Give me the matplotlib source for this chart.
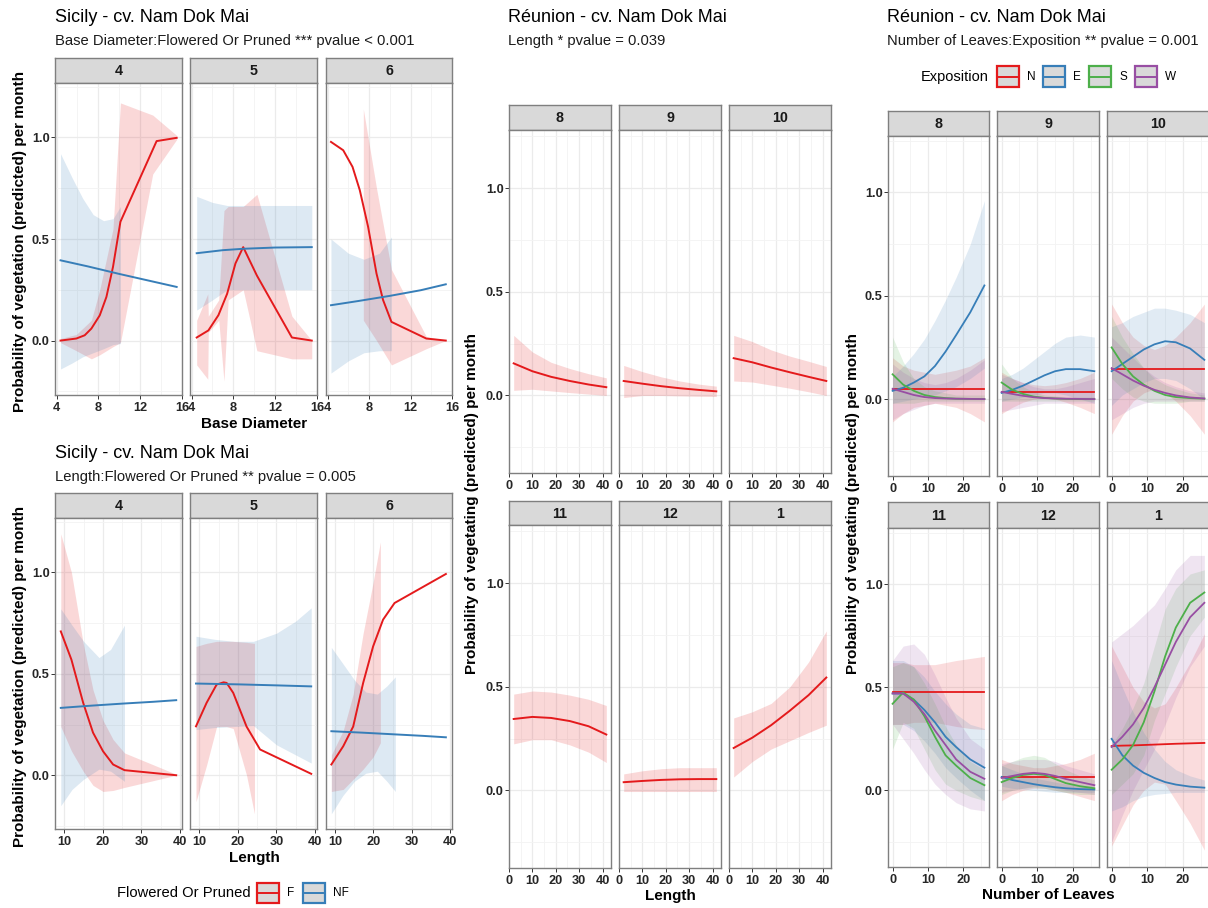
import matplotlib.pyplot as plt
from matplotlib.patches import Rectangle
from matplotlib.lines import Line2D

plt.rcParams['font.family'] = ['Liberation Sans', 'DejaVu Sans']

RED, BLUE, GREEN, PURPLE = '#E41A1C', '#377EB8', '#4DAF4A', '#984EA3'

# ---------------- Sicily, Base Diameter x Flowered Or Pruned ----------------
bd_months = ['4', '5', '6']
bd_4 = {
    'F': {'x': [4.38, 5.89, 6.69, 7.33, 8.13, 8.77, 9.4, 10.11, 13.57, 15.49],
          'y': [0.0, 0.01, 0.026, 0.059, 0.124, 0.215, 0.363, 0.585, 0.982, 0.998],
          'bx': [4.38, 5.89, 7.33, 8.13, 9.4, 10.11, 13.2, 15.49],
          'lo': [-0.01, -0.05, -0.09, -0.07, -0.03, -0.01, 0.82, 0.99],
          'hi': [0.01, 0.03, 0.1, 0.25, 0.55, 1.17, 1.11, 1.01]},
    'NF': {'x': [4.38, 7.0, 10.0, 13.0, 15.49],
           'y': [0.395, 0.365, 0.328, 0.293, 0.264],
           'bx': [4.38, 5.5, 6.5, 7.5, 8.5, 9.4, 10.11],
           'lo': [-0.14, -0.11, -0.08, -0.06, -0.04, -0.02, -0.015],
           'hi': [0.92, 0.8, 0.7, 0.62, 0.59, 0.6, 0.66]},
}
bd_5 = {
    'F': {'x': [4.49, 5.61, 6.57, 7.4, 8.2, 8.94, 10.25, 13.6, 15.5],
          'y': [0.015, 0.05, 0.125, 0.23, 0.38, 0.46, 0.32, 0.015, 0.0],
          'bx': [4.49, 5.55, 5.6, 6.6, 7.1, 7.5, 8.94, 10.25, 13.6, 15.5],
          'lo': [-0.12, -0.19, 0.04, 0.1, -0.2, 0.2, 0.25, -0.05, -0.09, -0.09],
          'hi': [0.1, 0.23, 0.12, 0.2, 0.64, 0.66, 0.66, 0.72, 0.12, 0.0]},
    'NF': {'x': [4.49, 7.0, 9.0, 12.0, 15.5],
           'y': [0.43, 0.445, 0.452, 0.458, 0.46],
           'bx': [4.49, 6.0, 7.4, 15.5],
           'lo': [0.15, 0.2, 0.25, 0.25],
           'hi': [0.71, 0.68, 0.665, 0.665]},
}
bd_6 = {
    'F': {'x': [4.33, 5.51, 6.41, 7.11, 7.91, 8.72, 9.35, 10.16, 13.52, 15.4],
          'y': [0.978, 0.937, 0.855, 0.74, 0.56, 0.33, 0.2, 0.092, 0.01, 0.0],
          'bx': [7.45, 8.72, 10.16, 13.52, 15.4],
          'lo': [0.1, 0.0, -0.12, -0.04, 0.0],
          'hi': [1.14, 0.75, 0.35, 0.02, 0.0]},
    'NF': {'x': [4.33, 7.0, 10.0, 13.0, 15.4],
           'y': [0.174, 0.195, 0.22, 0.248, 0.277],
           'bx': [4.33, 6.0, 7.5, 9.0, 10.16],
           'lo': [-0.16, -0.1, -0.06, -0.05, -0.05],
           'hi': [0.5, 0.43, 0.4, 0.43, 0.51]},
}

# ---------------- Sicily, Length x Flowered Or Pruned ----------------
len_4 = {
    'F': {'x': [9.1, 11.85, 14.9, 17.45, 20.05, 22.65, 25.6, 39.0],
          'y': [0.709, 0.57, 0.357, 0.21, 0.118, 0.053, 0.025, 0.0],
          'bx': [9.1, 11.85, 14.9, 17.45, 20.05, 22.65, 25.6, 39.0],
          'lo': [0.24, 0.12, 0.02, -0.05, -0.08, -0.075, -0.06, 0.0],
          'hi': [1.19, 1.0, 0.65, 0.42, 0.27, 0.176, 0.11, 0.005]},
    'NF': {'x': [9.1, 17.0, 25.0, 33.0, 39.0],
           'y': [0.332, 0.343, 0.353, 0.362, 0.37],
           'bx': [9.1, 12.0, 15.0, 19.0, 22.0, 25.6],
           'lo': [-0.15, -0.07, -0.02, 0.03, 0.02, -0.03],
           'hi': [0.82, 0.74, 0.66, 0.58, 0.62, 0.74]},
}
len_5 = {
    'F': {'x': [9.15, 11.9, 14.5, 16.3, 17.1, 18.8, 22.25, 25.75, 39.0],
          'y': [0.241, 0.357, 0.447, 0.458, 0.455, 0.406, 0.24, 0.127, 0.007],
          'bx': [9.15, 11.9, 14.5, 17.1, 18.8, 22.25, 24.3],
          'lo': [-0.13, 0.05, 0.24, 0.24, 0.23, 0.0, -0.19],
          'hi': [0.635, 0.65, 0.66, 0.66, 0.66, 0.655, 0.65]},
    'NF': {'x': [9.15, 20.0, 30.0, 39.0],
           'y': [0.452, 0.448, 0.443, 0.438],
           'bx': [9.15, 14.0, 19.0, 24.0, 30.0, 35.0, 39.0],
           'lo': [0.225, 0.235, 0.24, 0.245, 0.15, 0.1, 0.06],
           'hi': [0.685, 0.67, 0.66, 0.66, 0.7, 0.76, 0.825]},
}
len_6 = {
    'F': {'x': [9.0, 12.1, 14.7, 17.3, 19.9, 22.5, 25.5, 38.9],
          'y': [0.053, 0.143, 0.24, 0.455, 0.635, 0.767, 0.849, 0.992],
          'bx': [9.0, 12.1, 14.7, 17.3, 19.9, 21.8],
          'lo': [-0.08, -0.07, -0.02, 0.03, 0.09, 0.16],
          'hi': [0.1, 0.22, 0.4, 0.7, 0.95, 1.15]},
    'NF': {'x': [9.0, 17.0, 25.0, 33.0, 38.9],
           'y': [0.217, 0.21, 0.202, 0.194, 0.187],
           'bx': [9.0, 12.0, 15.0, 18.0, 21.0, 23.5, 25.7],
           'lo': [-0.19, -0.1, -0.03, 0.01, 0.02, -0.03, -0.08],
           'hi': [0.63, 0.55, 0.47, 0.41, 0.4, 0.44, 0.485]},
}

# ---------------- Réunion, Length (single series) ----------------
reu_months = ['8', '9', '10', '11', '12', '1']
mid_x = [2, 10, 18, 26, 34, 41.6]
# (fit, lower, upper)
mid_8 = ([0.155, 0.117, 0.09, 0.07, 0.053, 0.04],
         [0.025, 0.03, 0.022, 0.014, 0.007, 0.0],
         [0.29, 0.21, 0.16, 0.13, 0.105, 0.085])
mid_9 = ([0.07, 0.057, 0.045, 0.035, 0.027, 0.02],
         [-0.01, 0.0, 0.0, -0.002, -0.004, -0.005],
         [0.145, 0.115, 0.09, 0.07, 0.055, 0.045])
mid_10 = ([0.18, 0.16, 0.135, 0.112, 0.09, 0.07],
          [0.07, 0.065, 0.05, 0.035, 0.018, 0.0],
          [0.29, 0.26, 0.22, 0.19, 0.165, 0.14])
mid_11 = ([0.345, 0.355, 0.35, 0.335, 0.31, 0.27],
          [0.225, 0.245, 0.245, 0.22, 0.185, 0.135],
          [0.465, 0.48, 0.475, 0.46, 0.44, 0.41])
mid_12 = ([0.04, 0.046, 0.051, 0.054, 0.055, 0.055],
          [-0.005, -0.005, -0.005, -0.005, -0.005, -0.005],
          [0.08, 0.095, 0.105, 0.11, 0.11, 0.11])
mid_1 = ([0.205, 0.255, 0.315, 0.385, 0.46, 0.545],
         [0.065, 0.14, 0.2, 0.24, 0.28, 0.315],
         [0.35, 0.38, 0.42, 0.5, 0.62, 0.77])

# ---------------- Réunion, Number of Leaves x Exposition ----------------
expo = ['N', 'E', 'S', 'W']
leaves_x = [0, 3, 6, 9, 12, 15, 18, 22, 26]
leaf_8 = {
    'N': ([0.05] * 9,
          [-0.11, -0.07, -0.04, -0.03, -0.02, -0.03, -0.04, -0.07, -0.11],
          [0.2, 0.16, 0.14, 0.13, 0.12, 0.13, 0.14, 0.16, 0.2]),
    'E': ([0.04, 0.055, 0.08, 0.11, 0.16, 0.23, 0.31, 0.42, 0.55],
          [-0.02, -0.01, 0.0, 0.01, 0.02, 0.04, 0.06, 0.1, 0.15],
          [0.11, 0.16, 0.22, 0.29, 0.38, 0.48, 0.59, 0.75, 0.96]),
    'S': ([0.12, 0.07, 0.04, 0.02, 0.01, 0.005, 0.002, 0.001, 0.0],
          [-0.02, -0.02, -0.02, -0.01, -0.01, -0.01, -0.01, -0.01, -0.01],
          [0.3, 0.18, 0.1, 0.06, 0.04, 0.03, 0.02, 0.02, 0.02]),
    'W': ([0.05, 0.035, 0.02, 0.01, 0.005, 0.003, 0.002, 0.001, 0.0],
          [-0.1, -0.07, -0.05, -0.03, -0.02, -0.02, -0.02, -0.02, -0.02],
          [0.17, 0.13, 0.1, 0.08, 0.07, 0.08, 0.1, 0.14, 0.19]),
}
leaf_9 = {
    'N': ([0.035] * 9,
          [-0.07, -0.04, -0.015, 0.0, 0.005, 0.0, -0.015, -0.04, -0.07],
          [0.13, 0.1, 0.08, 0.07, 0.065, 0.07, 0.08, 0.1, 0.13]),
    'E': ([0.03, 0.045, 0.065, 0.09, 0.115, 0.135, 0.145, 0.145, 0.135],
          [-0.01, 0.0, 0.01, 0.02, 0.03, 0.03, 0.02, 0.0, -0.02],
          [0.1, 0.12, 0.15, 0.19, 0.23, 0.27, 0.3, 0.31, 0.3]),
    'S': ([0.08, 0.045, 0.025, 0.012, 0.006, 0.003, 0.001, 0.0, 0.0],
          [-0.01, -0.01, -0.01, -0.01, -0.01, -0.01, -0.01, -0.01, -0.01],
          [0.17, 0.1, 0.06, 0.035, 0.02, 0.015, 0.01, 0.01, 0.01]),
    'W': ([0.035, 0.025, 0.016, 0.009, 0.005, 0.003, 0.002, 0.001, 0.0],
          [-0.06, -0.05, -0.04, -0.03, -0.02, -0.02, -0.02, -0.02, -0.02],
          [0.12, 0.1, 0.08, 0.06, 0.05, 0.05, 0.06, 0.08, 0.1]),
}
leaf_10 = {
    'N': ([0.145] * 9,
          [-0.17, -0.08, -0.01, 0.03, 0.05, 0.03, -0.01, -0.08, -0.17],
          [0.46, 0.37, 0.3, 0.26, 0.24, 0.26, 0.3, 0.37, 0.46]),
    'E': ([0.135, 0.17, 0.205, 0.24, 0.265, 0.28, 0.275, 0.245, 0.19],
          [-0.03, 0.02, 0.05, 0.08, 0.1, 0.1, 0.09, 0.05, 0.0],
          [0.35, 0.37, 0.4, 0.42, 0.44, 0.44, 0.43, 0.41, 0.37]),
    'S': ([0.25, 0.17, 0.11, 0.07, 0.04, 0.02, 0.01, 0.005, 0.002],
          [0.1, 0.05, 0.01, -0.01, -0.02, -0.02, -0.02, -0.01, -0.01],
          [0.4, 0.3, 0.22, 0.15, 0.1, 0.07, 0.05, 0.03, 0.02]),
    'W': ([0.15, 0.12, 0.09, 0.065, 0.045, 0.03, 0.018, 0.008, 0.003],
          [-0.1, -0.07, -0.04, -0.02, -0.01, -0.01, -0.01, -0.01, -0.01],
          [0.3, 0.25, 0.2, 0.15, 0.11, 0.08, 0.06, 0.04, 0.03]),
}
leaf_11 = {
    'N': ([0.475] * 9,
          [0.32, 0.32, 0.33, 0.33, 0.33, 0.32, 0.31, 0.3, 0.295],
          [0.62, 0.62, 0.61, 0.61, 0.61, 0.62, 0.63, 0.64, 0.65]),
    'E': ([0.47, 0.47, 0.44, 0.39, 0.33, 0.26, 0.21, 0.15, 0.11],
          [0.32, 0.32, 0.29, 0.24, 0.18, 0.11, 0.06, 0.0, -0.05],
          [0.63, 0.63, 0.6, 0.55, 0.48, 0.42, 0.37, 0.32, 0.3]),
    'S': ([0.42, 0.475, 0.44, 0.36, 0.26, 0.17, 0.12, 0.06, 0.025],
          [0.2, 0.33, 0.3, 0.2, 0.1, 0.03, 0.0, -0.03, -0.05],
          [0.6, 0.62, 0.6, 0.52, 0.42, 0.31, 0.22, 0.14, 0.1]),
    'W': ([0.47, 0.47, 0.43, 0.37, 0.29, 0.22, 0.15, 0.09, 0.056],
          [0.32, 0.25, 0.18, 0.1, 0.03, -0.02, -0.06, -0.09, -0.1],
          [0.63, 0.7, 0.71, 0.66, 0.56, 0.45, 0.35, 0.25, 0.2]),
}
leaf_12 = {
    'N': ([0.065] * 9,
          [-0.05, -0.02, 0.0, 0.01, 0.01, 0.0, -0.01, -0.03, -0.05],
          [0.15, 0.13, 0.12, 0.11, 0.11, 0.12, 0.13, 0.15, 0.18]),
    'E': ([0.065, 0.05, 0.04, 0.03, 0.022, 0.015, 0.01, 0.006, 0.004],
          [0.02, 0.01, 0.005, 0.0, -0.005, -0.01, -0.01, -0.01, -0.01],
          [0.12, 0.1, 0.08, 0.06, 0.05, 0.04, 0.03, 0.025, 0.02]),
    'S': ([0.04, 0.06, 0.075, 0.08, 0.075, 0.055, 0.035, 0.02, 0.01],
          [-0.02, 0.0, 0.01, 0.015, 0.01, 0.0, -0.01, -0.02, -0.02],
          [0.12, 0.14, 0.16, 0.17, 0.16, 0.13, 0.1, 0.07, 0.05]),
    'W': ([0.06, 0.07, 0.08, 0.085, 0.08, 0.07, 0.055, 0.04, 0.025],
          [-0.01, 0.0, 0.01, 0.02, 0.02, 0.01, 0.0, -0.01, -0.02],
          [0.13, 0.14, 0.15, 0.15, 0.15, 0.14, 0.12, 0.1, 0.08]),
}
leaf_1 = {
    'N': ([0.215, 0.217, 0.218, 0.22, 0.222, 0.224, 0.226, 0.228, 0.23],
          [-0.27, -0.17, -0.07, 0.0, 0.04, 0.03, -0.05, -0.16, -0.29],
          [0.7, 0.6, 0.5, 0.43, 0.4, 0.42, 0.5, 0.62, 0.76]),
    'E': ([0.25, 0.17, 0.12, 0.085, 0.06, 0.04, 0.028, 0.018, 0.013],
          [-0.1, -0.08, -0.05, -0.03, -0.02, -0.015, -0.01, -0.01, -0.01],
          [0.63, 0.5, 0.38, 0.28, 0.2, 0.14, 0.1, 0.07, 0.05]),
    'S': ([0.1, 0.15, 0.22, 0.33, 0.48, 0.65, 0.79, 0.91, 0.96],
          [-0.02, 0.03, 0.08, 0.17, 0.34, 0.47, 0.6, 0.75, 0.84],
          [0.22, 0.3, 0.4, 0.52, 0.7, 0.88, 0.98, 1.05, 1.07]),
    'W': ([0.21, 0.26, 0.32, 0.4, 0.5, 0.61, 0.72, 0.84, 0.91],
          [-0.25, -0.12, 0.0, 0.1, 0.2, 0.32, 0.45, 0.6, 0.7],
          [0.72, 0.76, 0.8, 0.85, 0.9, 0.98, 1.07, 1.14, 1.14]),
}

# ---------------- figure ----------------
W, H = 1208, 908
fig = plt.figure(figsize=(W / 100, H / 100), dpi=100)
BORDER = '#7F7F7F'


def panel(x0, x1, s0, y0, y1, label, xlim, ylim, xmaj, xmin, ylab):
    st = fig.add_axes([x0 / W, 1 - y0 / H, (x1 - x0) / W, (y0 - s0) / H])
    st.set_facecolor('#D9D9D9')
    st.set_xticks([])
    st.set_yticks([])
    for sp in st.spines.values():
        sp.set_color(BORDER)
        sp.set_linewidth(1.0)
    st.text(0.5, 0.47, label, ha='center', va='center', fontsize=10.3,
            fontweight='bold', color='#1A1A1A', transform=st.transAxes)
    ax = fig.add_axes([x0 / W, 1 - y1 / H, (x1 - x0) / W, (y1 - y0) / H])
    ax.set_xlim(xlim)
    ax.set_ylim(ylim)
    ax.set_xticks(xmaj)
    ax.set_xticks(xmin, minor=True)
    ax.set_yticks([0, 0.5, 1.0])
    ax.set_yticks([-0.25, 0.25, 0.75, 1.25], minor=True)
    ax.grid(which='major', color='#EBEBEB', lw=0.9)
    ax.grid(which='minor', color='#F3F3F3', lw=0.6)
    ax.set_axisbelow(True)
    ax.tick_params(which='major', length=2.75, width=0.7, color='#333333',
                   pad=2.0, labelsize=9.2, labelcolor='#262626')
    ax.tick_params(which='minor', length=0)
    ax.set_xticklabels([str(v) for v in xmaj], fontweight='bold')
    if ylab:
        ax.set_yticklabels(['0.0', '0.5', '1.0'], fontweight='bold')
        ax.tick_params(axis='y', pad=1.2)
    else:
        ax.set_yticklabels([])
        ax.tick_params(axis='y', length=0)
    for sp in ax.spines.values():
        sp.set_color(BORDER)
        sp.set_linewidth(1.0)
    return ax


def draw_groups(ax, d, cols):
    for k, c in cols:
        ax.fill_between(d[k]['bx'], d[k]['lo'], d[k]['hi'], color=c, alpha=0.17, lw=0)
    for k, c in cols:
        ax.plot(d[k]['x'], d[k]['y'], color=c, lw=1.4)


fp_cols = [('F', RED), ('NF', BLUE)]
left_x = [(55, 182), (190, 317), (326, 452)]

# left top: base diameter
for (x0, x1), m, d in zip(left_x, bd_months, [bd_4, bd_5, bd_6]):
    ax = panel(x0, x1, 58, 83, 395, m, (3.85, 15.95), (-0.268, 1.268),
               [4, 8, 12, 16], [6, 10, 14], x0 == 55)
    draw_groups(ax, d, fp_cols)

# left bottom: length
for (x0, x1), m, d in zip(left_x, bd_months, [len_4, len_5, len_6]):
    ax = panel(x0, x1, 493, 518, 829, m, (7.6, 40.5), (-0.265, 1.268),
               [10, 20, 30, 40], [15, 25, 35], x0 == 55)
    draw_groups(ax, d, fp_cols)

# middle: Réunion length
mid_cols = [(509, 611), (619, 721), (729, 831)]
mid_rows = [(105, 130, 473), (501, 525, 868)]
mid_data = [mid_8, mid_9, mid_10, mid_11, mid_12, mid_1]
for i, (m, (yv, lo, hi)) in enumerate(zip(reu_months, mid_data)):
    x0, x1 = mid_cols[i % 3]
    s0, y0, y1 = mid_rows[i // 3]
    ax = panel(x0, x1, s0, y0, y1, m, (0, 43.6), (-0.374, 1.281),
               [0, 10, 20, 30, 40], [5, 15, 25, 35], i % 3 == 0)
    ax.fill_between(mid_x, lo, hi, color=RED, alpha=0.17, lw=0)
    ax.plot(mid_x, yv, color=RED, lw=1.4)

# right: Réunion number of leaves x exposition
right_cols = [(888, 989), (997, 1099), (1107, 1209)]
right_rows = [(111, 136, 476), (502, 528, 867)]
leaf_data = [leaf_8, leaf_9, leaf_10, leaf_11, leaf_12, leaf_1]
expo_cols = [RED, BLUE, GREEN, PURPLE]
for i, (m, d) in enumerate(zip(reu_months, leaf_data)):
    x0, x1 = right_cols[i % 3]
    s0, y0, y1 = right_rows[i // 3]
    ax = panel(x0, x1, s0, y0, y1, m, (-1.3, 27.3), (-0.372, 1.273),
               [0, 10, 20], [5, 15, 25], i % 3 == 0)
    for k, c in zip(expo, expo_cols):
        ax.fill_between(leaves_x, d[k][1], d[k][2], color=c, alpha=0.15, lw=0)
    for k, c in zip(expo, expo_cols):
        ax.plot(leaves_x, d[k][0], color=c, lw=1.3)


# ---------------- texts ----------------
def ftext(x, y, s, **kw):
    fig.text(x / W, 1 - y / H, s, **kw)


for x, t, sub, y in [(55, 'Sicily - cv. Nam Dok Mai',
                      'Base Diameter:Flowered Or Pruned *** pvalue < 0.001', 18),
                     (55, 'Sicily - cv. Nam Dok Mai',
                      'Length:Flowered Or Pruned ** pvalue = 0.005', 453),
                     (508, 'Réunion - cv. Nam Dok Mai', 'Length * pvalue = 0.039', 18),
                     (887, 'Réunion - cv. Nam Dok Mai',
                      'Number of Leaves:Exposition ** pvalue = 0.001', 18)]:
    ftext(x, y, t, fontsize=13, ha='left', va='center', color='black')
    ftext(x, y + 23.5, sub, fontsize=10.6, ha='left', va='center', color='#1A1A1A')

ylab_kw = dict(fontsize=11, fontweight='bold', rotation=90, ha='center', va='center')
ftext(20, 241, 'Probability of vegetation (predicted) per month', **ylab_kw)
ftext(20, 676, 'Probability of vegetation (predicted) per month', **ylab_kw)
ftext(472, 504, 'Probability of vegetating (predicted) per month', **ylab_kw)
ftext(853, 503, 'Probability of vegetating (predicted) per month', **ylab_kw)

xlab_kw = dict(fontsize=11, fontweight='bold', ha='center', va='center')
ftext(254, 424, 'Base Diameter', **xlab_kw)
ftext(254, 858, 'Length', **xlab_kw)
ftext(670, 896, 'Length', **xlab_kw)
ftext(1048, 895, 'Number of Leaves', **xlab_kw)


# ---------------- legends ----------------
def key(x, y, w, h, c):
    fig.add_artist(Rectangle((x / W, 1 - (y + h) / H), w / W, h / H,
                             transform=fig.transFigure, facecolor='#D9D9D9',
                             edgecolor=c, lw=1.6))
    fig.add_artist(Line2D([(x + 2) / W, (x + w - 2) / W], [1 - (y + h / 2) / H] * 2,
                          transform=fig.transFigure, color=c, lw=1.4))


ftext(117, 893, 'Flowered Or Pruned', fontsize=10.6, ha='left', va='center')
for x, c, lab in [(257, RED, 'F'), (303, BLUE, 'NF')]:
    key(x, 883, 22, 20, c)
    ftext(x + 30, 893, lab, fontsize=8.5, ha='left', va='center')

ftext(921, 77, 'Exposition', fontsize=10.5, ha='left', va='center')
for x, c, lab in zip([997, 1043, 1089, 1135], expo_cols, expo):
    key(x, 66, 22, 21, c)
    ftext(x + 30, 77, lab, fontsize=8.5, ha='left', va='center')

fig.savefig('out.png', dpi=100)
